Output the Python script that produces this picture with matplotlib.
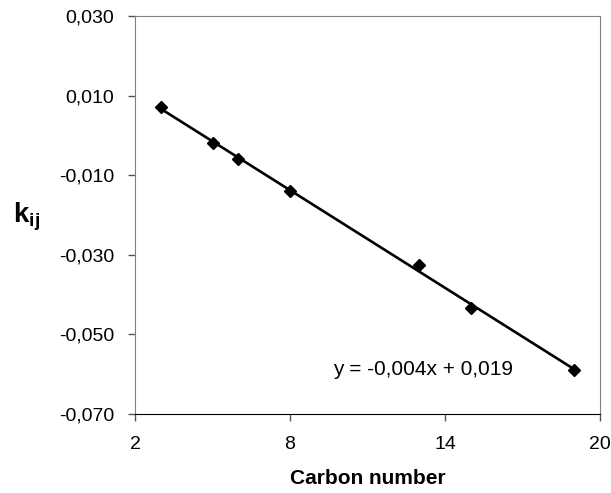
import numpy as np
import matplotlib
matplotlib.use("Agg")
import matplotlib.pyplot as plt
from matplotlib.ticker import FuncFormatter

plt.rcParams["font.family"] = ["Liberation Sans", "DejaVu Sans"]
plt.rcParams["mathtext.fontset"] = "custom"
plt.rcParams["mathtext.bf"] = "Liberation Sans:bold"
plt.rcParams["mathtext.rm"] = "Liberation Sans"

# carbon number vs binary interaction parameter
carbon = [3, 5, 6, 8, 13, 15, 19]
kij = [0.0071, -0.0020, -0.0059, -0.0139, -0.0326, -0.0433, -0.0589]

x_ticks = [2, 8, 14, 20]
y_ticks = [-0.070, -0.050, -0.030, -0.010, 0.010, 0.030]

fig = plt.figure(figsize=(6.11, 4.93), dpi=100)
ax = fig.add_axes([135 / 611, 1 - 414 / 493, 465 / 611, 398 / 493])

slope, icpt = np.polyfit(carbon, kij, 1)
xs = np.array([carbon[0], carbon[-1]])
ax.plot(xs, slope * xs + icpt, color="black", lw=1.9, zorder=2)
ax.plot(carbon, kij, ls="none", marker="D", ms=6, color="black", zorder=3)

ax.set_xlim(2, 20)
ax.set_ylim(-0.070, 0.030)
ax.set_xticks(x_ticks)
ax.set_yticks(y_ticks)
ax.yaxis.set_major_formatter(FuncFormatter(lambda v, p: f"{v:.3f}".replace(".", ",")))
ax.tick_params(direction="out", length=5, width=1, labelsize=14, color="#555555")
ax.tick_params(axis="y", pad=10)
ax.tick_params(axis="x", pad=11)

for side in ["left", "top", "right"]:
    ax.spines[side].set_color("#808080")
ax.spines["bottom"].set_color("black")

ax.text(9.65, -0.0589, "y = -0,004x + 0,019", fontsize=15, va="center", ha="left")

ax.set_xlabel("Carbon number", fontsize=15, fontweight="bold", labelpad=11)
ax.set_ylabel(r"$\mathbf{k_{ij}}$", fontsize=20, rotation=0, ha="center", va="center")
ax.yaxis.set_label_coords(-0.234, 0.495)

fig.savefig("out.png", dpi=100)
